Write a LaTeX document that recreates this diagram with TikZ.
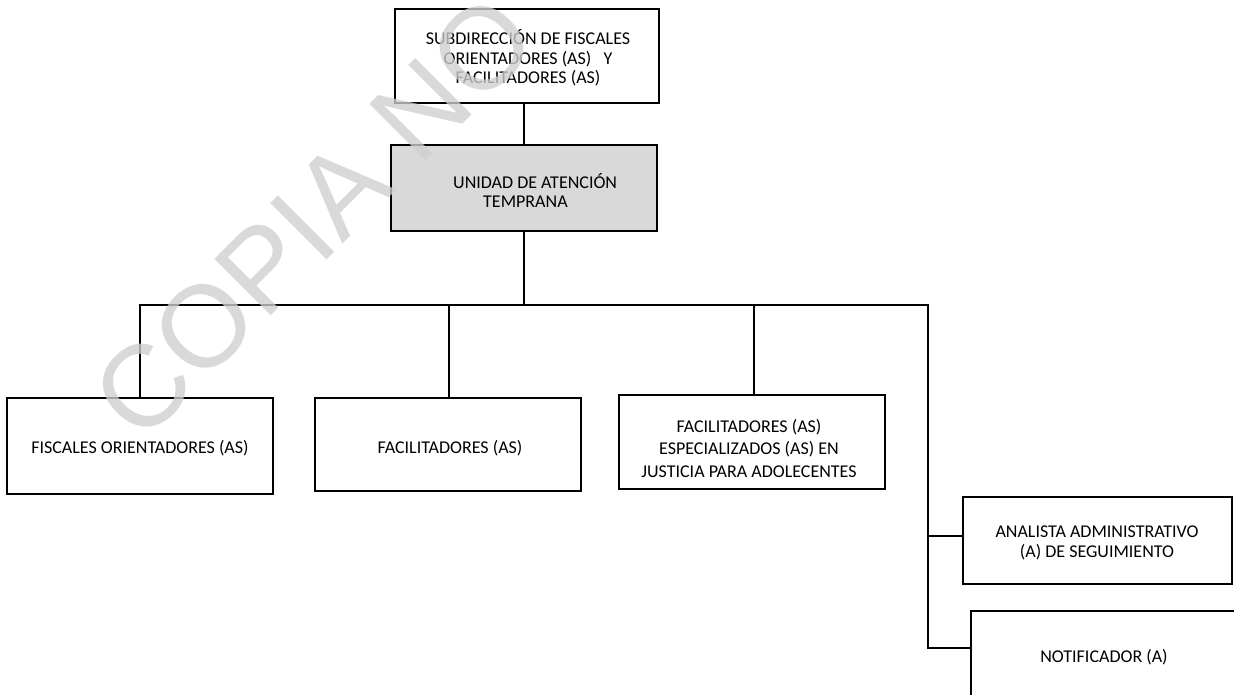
\documentclass[tikz,border=0pt]{standalone}
\usepackage{fontspec}
\setmainfont{Carlito}
\newfontfamily\wmfont{Liberation Sans}
\begin{document}
\begin{tikzpicture}[x=1pt,y=-1pt,
  box/.style={draw=black, line width=1.4pt, fill=white, inner sep=0pt},
  lbl/.style={align=center, inner sep=0pt, font=\fontsize{18}{19.5}\selectfont},
  link/.style={line width=1.4pt, draw=black}]
\useasboundingbox (0,0) rectangle (1234,694);
\clip (0,0) rectangle (1234,694);
\fill[white] (0,0) rectangle (1234,694);

% boxes
\node[box, minimum width=264pt, minimum height=94pt] (top) at (527,56) {};
\node[box, fill=black!15, minimum width=266pt, minimum height=86pt] (grey) at (524,188) {};
\node[box, minimum width=266pt, minimum height=96pt] (fisc) at (140,446) {};
\node[box, minimum width=266pt, minimum height=93pt] (faci) at (448,444.5) {};
\node[box, minimum width=266pt, minimum height=94pt] (faj) at (752,442) {};
\node[box, minimum width=269pt, minimum height=87pt] (anal) at (1097.5,540.5) {};
\node[box, minimum width=266pt, minimum height=94pt] (noti) at (1104,658) {};

% texts
\node[lbl] (topt) at (528,58)
  {SUBDIRECCIÓN DE FISCALES\\ORIENTADORES (AS)\ \ \ Y\\FACILITADORES (AS)};
\node[lbl, align=left, anchor=west, font=\fontsize{18}{19}\selectfont] (greyt) at (453,190)
  {UNIDAD DE ATENCIÓN\\\hspace*{30pt}TEMPRANA};
\node[lbl] (fisct) at (140,448) {FISCALES ORIENTADORES (AS)};
\node[lbl] (facit) at (450,448) {FACILITADORES (AS)};
\node[lbl, font=\fontsize{18}{22.5}\selectfont] (fajt) at (749,448)
  {FACILITADORES (AS)\\ESPECIALIZADOS (AS) EN\\JUSTICIA PARA ADOLECENTES};
\node[lbl, font=\fontsize{18}{20}\selectfont] (analt) at (1097,543)
  {ANALISTA ADMINISTRATIVO\\(A) DE SEGUIMIENTO};
\node[lbl] (notit) at (1104,657) {NOTIFICADOR (A)};

% connectors
\coordinate (busL) at (140,305);
\coordinate (busR) at (928,305);
\coordinate (jA) at (928,536);
\coordinate (jN) at (928,648);

\draw[link] (top.south -| grey.north) -- (grey.north);
\draw[link] (grey.south) -- (grey.south |- busL);
\draw[link] (fisc.north) -- (busL) -- (busR) -- (jN) -- (jN -| noti.west);
\draw[link] (jA) -- (jA -| anal.west);
\draw[link] ([xshift=1pt]faci.north) -- ([xshift=1pt]faci.north |- busL);
\draw[link] ([xshift=2pt]faj.north) -- ([xshift=2pt]faj.north |- busL);

% watermark
\node[anchor=base west, inner sep=0pt, rotate=45, text=black!19, opacity=0.78,
  font=\wmfont\fontsize{116}{116}\selectfont] (wm) at (141.5,445.5) {COPIA NO};
\end{tikzpicture}
\end{document}
